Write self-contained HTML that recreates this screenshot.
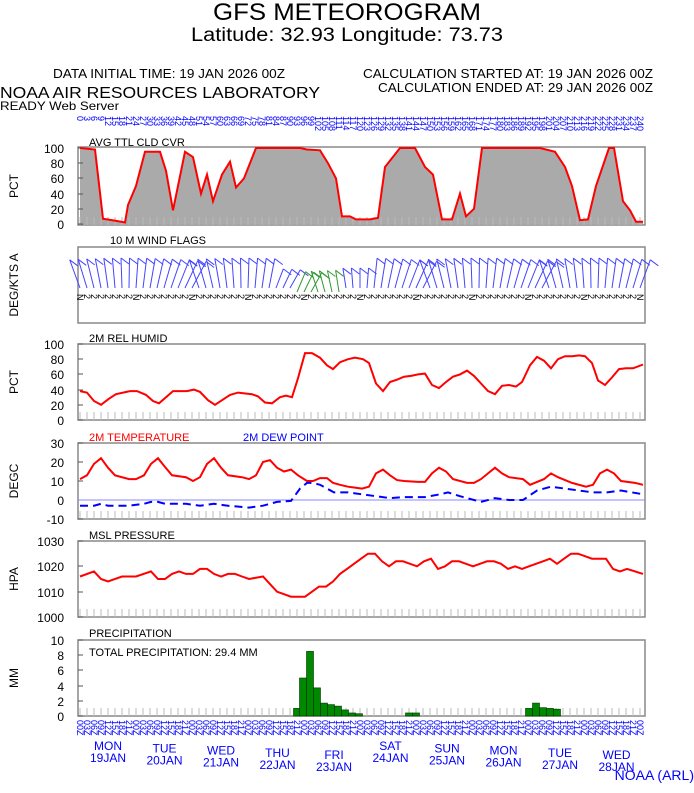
<!DOCTYPE html>
<html><head><meta charset="utf-8"><style>
body{margin:0;background:#fff;width:694px;height:788px;overflow:hidden;font-family:"Liberation Sans",sans-serif}
</style></head><body>
<svg id="s" width="694" height="788" xmlns="http://www.w3.org/2000/svg" font-family="Liberation Sans, sans-serif">
<text x="347" y="20" font-size="24" text-anchor="middle" textLength="268" lengthAdjust="spacingAndGlyphs">GFS METEOROGRAM</text>
<text x="347" y="41" font-size="19" text-anchor="middle" textLength="312" lengthAdjust="spacingAndGlyphs">Latitude: 32.93 Longitude:  73.73</text>
<text x="53" y="78" font-size="12.5" textLength="232" lengthAdjust="spacingAndGlyphs">DATA INITIAL TIME: 19 JAN 2026 00Z</text>
<text x="653" y="78" font-size="12.5" text-anchor="end" textLength="290" lengthAdjust="spacingAndGlyphs">CALCULATION STARTED AT: 19 JAN 2026 00Z</text>
<text x="653" y="92" font-size="12.5" text-anchor="end" textLength="275" lengthAdjust="spacingAndGlyphs">CALCULATION ENDED AT: 29 JAN 2026 00Z</text>
<text x="0" y="98" font-size="16" textLength="320" lengthAdjust="spacingAndGlyphs">NOAA AIR RESOURCES LABORATORY</text>
<text x="0" y="110" font-size="12" textLength="119" lengthAdjust="spacingAndGlyphs">READY Web Server</text>
<text x="89" y="146" font-size="11">AVG TTL CLD CVR</text>
<text x="110" y="244" font-size="11">10 M  WIND FLAGS</text>
<text x="89" y="342" font-size="11">2M REL HUMID</text>
<text x="89" y="441" font-size="11" fill="#f00">2M TEMPERATURE</text>
<text x="243" y="441" font-size="11" fill="#00f">2M  DEW POINT</text>
<text x="89" y="539" font-size="11">MSL PRESSURE</text>
<text x="89" y="637" font-size="11">PRECIPITATION</text>
<text x="89" y="656" font-size="11">TOTAL PRECIPITATION:  29.4 MM</text>
<text x="694" y="780" font-size="14" fill="#00f" text-anchor="end">NOAA (ARL)</text>
<g id="g"></g>
</svg>
<script>
const g=document.getElementById('g');let h='';
const X0=80,DX=7.0;
function poly(pts,y0,ppu,v0,col,extra){return '<polyline fill="none" stroke="'+col+'" stroke-width="2" '+(extra||'')+' points="'+pts.map(p=>p[0]+','+(y0-(p[1]-v0)*ppu).toFixed(1)).join(' ')+'"/>';}
function panel(top,bot,ticks,label,lx,noticks){
 h+='<rect x="78" y="'+top+'" width="567" height="'+(bot-top)+'" fill="none" stroke="#888" stroke-width="1.5"/>';
 if(!noticks)for(let i=0;i<81;i++){let x=X0+i*DX;h+='<line x1="'+x+'" x2="'+x+'" y1="'+(bot-8)+'" y2="'+bot+'" stroke="#bbb" stroke-width="1"/>';}
 ticks.forEach(t=>{h+='<text x="64" y="'+(t[0]+5)+'" font-size="12" text-anchor="end">'+t[1]+'</text><line x1="78" x2="83" y1="'+t[0]+'" y2="'+t[0]+'" stroke="#555"/>';});
 h+='<text font-size="12" text-anchor="middle" transform="translate('+lx+','+((top+bot)/2)+') rotate(-90)">'+label+'</text>';
}
// cloud
let cl=[[80,100],[95,98],[103,7],[117,4],[125,2],[128,25],[136,50],[145,95],[160,95],[166,70],[173,18],[185,95],[193,88],[201,40],[207,65],[213,30],[222,65],[230,82],[236,48],[244,60],[256,100],[300,100],[307,98],[320,97],[328,80],[336,60],[342,10],[350,10],[356,6],[370,6],[378,8],[385,75],[400,100],[415,100],[425,75],[433,65],[442,6],[452,6],[460,40],[466,10],[474,20],[482,100],[540,100],[555,95],[565,75],[572,50],[580,5],[588,6],[596,50],[609,100],[614,100],[623,30],[630,18],[636,3],[643,3]];
const cy=224,cp=0.76;
h+='<polygon fill="#aaa" points="80,224 '+cl.map(p=>p[0]+','+(cy-p[1]*cp)).join(' ')+' 643,224"/>';
panel(147,225,[[148,100],[163,80],[178,60],[194,40],[209,20],[224,0]],'PCT',18);
h+=poly(cl,cy,cp,0,'#f00','stroke-width="1.2"');
// wind panel
panel(247,323,[],'DEG/KTS  A',18,true);
for(let i=0;i<81;i++){let x=X0+i*DX;let green=(i>=31&&i<=37);let col=green?'#393':'#44f';
 let ang=((i*53)%50-20)*Math.PI/180; let L=green?22:30;
 let by=green?292:288;
 let tx=x+Math.sin(ang)*L, ty=by-Math.cos(ang)*L;
 if(i>=28&&i<=41&&!green){ty+=10;}
 h+='<line x1="'+x+'" y1="'+by+'" x2="'+tx.toFixed(1)+'" y2="'+ty.toFixed(1)+'" stroke="'+col+'" stroke-width="1"/><line x1="'+tx.toFixed(1)+'" y1="'+ty.toFixed(1)+'" x2="'+(tx+8).toFixed(1)+'" y2="'+(ty+6).toFixed(1)+'" stroke="'+col+'" stroke-width="1"/>';
 h+='<text font-size="9" transform="translate('+(x-3)+',294) rotate(90)">'+(i%8==0?'N':'2')+'</text>';}
// RH
let rh=[[80,38],[87,36],[94,25],[101,20],[109,28],[116,34],[130,38],[137,38],[146,33],[153,25],[159,22],[166,30],[173,38],[187,38],[194,40],[200,37],[208,26],[215,20],[222,26],[230,33],[238,36],[252,34],[258,31],[265,23],[272,22],[280,30],[286,32],[292,30],[298,55],[305,88],[312,88],[320,82],[327,72],[333,67],[340,76],[348,80],[355,82],[363,80],[369,75],[376,48],[383,38],[390,50],[397,53],[404,57],[411,58],[418,60],[425,61],[432,46],[439,42],[446,50],[453,57],[460,60],[467,65],[474,58],[481,48],[488,38],[495,34],[502,45],[509,46],[516,44],[522,50],[530,72],[537,83],[544,78],[551,68],[558,80],[565,84],[572,84],[579,85],[585,84],[592,75],[598,52],[605,46],[612,56],[619,67],[626,68],[633,68],[643,73]];
panel(344,420,[[344,100],[359,80],[374,60],[390,40],[405,20],[420,0]],'PCT',18);
h+=poly(rh,420,0.76,0,'#f00');
// temp
let tt=[[80,11],[87,13],[94,19],[101,22],[108,17],[115,13],[129,11],[136,11],[144,13],[151,19],[158,22],[164,18],[172,13],[186,12],[193,10],[200,12],[207,19],[214,22],[221,17],[228,13],[242,12],[249,11],[256,13],[263,20],[270,21],[277,17],[284,15],[291,16],[298,13],[307,10],[313,10],[320,11.5],[327,11.5],[333,9],[340,8],[348,7],[355,6.5],[362,6],[369,7],[376,14],[383,16],[390,13],[397,10.5],[404,10],[418,9.5],[425,9.5],[432,14],[439,17],[446,15],[453,11],[467,9],[474,9],[481,11],[488,14],[495,17],[502,14],[509,12],[523,11],[530,8],[544,11],[551,14],[558,12],[572,9],[586,7],[593,8],[600,14],[607,16],[614,14],[621,10],[635,9],[643,8]];
let dp=[[80,-3],[94,-3],[101,-2],[108,-3],[129,-3],[144,-2],[151,-1],[158,-1],[165,-2],[186,-2],[200,-3],[214,-2],[228,-3],[249,-4],[263,-3],[277,-1],[291,-0.5],[300,6],[307,9],[313,9],[320,8],[334,4],[348,4],[362,3],[376,2],[390,1],[404,1.5],[425,1.5],[440,3],[448,4],[460,2],[474,0],[481,-1],[495,1],[509,0],[523,0],[537,5],[551,7],[565,6],[579,5],[593,4],[607,4],[621,5],[643,3]];
panel(443,519,[[443,30],[462,20],[481,10],[500,0],[519,-10]],'DEGC',18);
h+='<line x1="78" x2="645" y1="500" y2="500" stroke="#88f" stroke-width="1"/>';
h+=poly(tt,500,1.9,0,'#f00');
h+=poly(dp,500,1.9,0,'#00f','stroke-dasharray="8,5"');
// pressure
let pr=[[80,1016],[94,1018],[101,1015],[108,1014],[122,1016],[136,1016],[151,1018],[158,1015],[165,1015],[172,1017],[179,1018],[186,1017],[193,1017],[200,1019],[207,1019],[214,1017],[221,1016],[228,1017],[235,1017],[242,1016],[249,1015],[263,1016],[270,1013],[277,1010],[284,1009],[291,1008],[305,1008],[312,1010],[319,1012],[326,1012],[333,1014],[340,1017],[347,1019],[354,1021],[361,1023],[368,1025],[375,1025],[382,1022],[389,1020],[396,1022],[403,1022],[410,1021],[417,1020],[424,1022],[431,1023],[438,1019],[445,1020],[452,1022],[459,1022],[466,1021],[473,1020],[480,1021],[487,1022],[494,1022],[501,1021],[508,1019],[515,1020],[522,1019],[529,1020],[536,1021],[543,1022],[550,1023],[557,1021],[564,1023],[571,1025],[578,1025],[585,1024],[592,1023],[599,1023],[606,1023],[613,1019],[620,1018],[627,1019],[643,1017]];
panel(541,617,[[541,1030],[566,1020],[592,1010],[617,1000]],'HPA',18);
h+=poly(pr,617,2.533,1000,'#f00');
// precip
panel(640,716,[[640,10],[655,8],[670,6],[686,4],[701,2],[716,0]],'MM',18);
[[297,1],[303,5],[310,8.5],[317,3.7],[324,1.7],[331,1.5],[338,1.3],[345,0.8],[352,0.4],[359,0.3],[409,0.4],[416,0.4],[529,1.0],[536,1.7],[543,1.1],[550,1.0],[557,0.9]].forEach(b=>{let hh=b[1]*7.6;h+='<rect x="'+(b[0]-3.5)+'" y="'+(716-hh)+'" width="7" height="'+hh+'" fill="#080" stroke="#030" stroke-width="0.6"/>';});
for(let i=0;i<81;i++){let x=X0+i*DX;
 h+='<text font-size="9" fill="#00f" transform="translate('+(x-3)+',116) rotate(90)">'+(i*3)+'</text>';
 h+='<text font-size="9" fill="#00f" transform="translate('+(x-3)+',720) rotate(90)">'+['00Z','03Z','06Z','09Z','12Z','15Z','18Z','21Z'][i%8]+'</text>';}
const days=[['MON','19JAN'],['TUE','20JAN'],['WED','21JAN'],['THU','22JAN'],['FRI','23JAN'],['SAT','24JAN'],['SUN','25JAN'],['MON','26JAN'],['TUE','27JAN'],['WED','28JAN']];
days.forEach((d,k)=>{let x=X0+28+k*56.5,y=750+(k%5)*2.3;h+='<text x="'+x+'" y="'+y+'" font-size="12" fill="#00f" text-anchor="middle">'+d[0]+'</text><text x="'+x+'" y="'+(y+12)+'" font-size="12" fill="#00f" text-anchor="middle">'+d[1]+'</text>';});
g.innerHTML=h;
</script>
</body></html>
